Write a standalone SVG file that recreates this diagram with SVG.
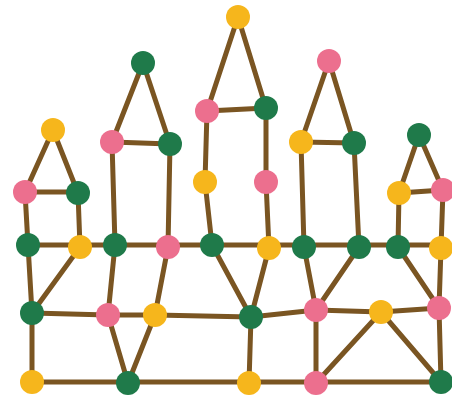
<svg xmlns="http://www.w3.org/2000/svg" width="452" height="401" viewBox="0 0 452 401">
<style>
.e{stroke:#7a5522;stroke-width:5;stroke-linecap:round;fill:none}
.g{fill:#1f7a4a}.p{fill:#ec6f8e}.y{fill:#f6b61c}
</style>
<rect width="452" height="401" fill="#ffffff"/>
<g id="connectors" class="e">
<path d="M53 130L25 192M53 130L78 193M25 192H78M25 192L28 245M78 193L80 247"/>
<path d="M28 245H441"/>
<path d="M28 245L32 313M80 247L32 313M32 313L32 382"/>
<path d="M32 313L108 315L155 315L251 317L316 310L381 312L439 308"/>
<path d="M32 382H441"/>
<path d="M143 63L112 142M143 63L170 144M112 142L170 144M112 142L115 245M170 144L168 247"/>
<path d="M115 245L108 315M168 247L155 315M108 315L128 383M155 315L128 383"/>
<path d="M238 17L207 111M238 17L266 108M207 111L266 108M207 111L205 182M205 182L212 245M266 108L266 182M266 182L269 248"/>
<path d="M212 245L251 317M269 248L251 317M251 317L249 383"/>
<path d="M304 247L316 310M359 247L316 310M316 310L316 383M381 312L316 383M381 312L441 382"/>
<path d="M398 247L439 308M441 248L439 308M439 308L441 382"/>
<path d="M329 61L301 142M329 61L354 143M301 142L354 143M301 142L304 247M354 143L359 247"/>
<path d="M419 135L399 193M419 135L443 190M399 193L443 190M399 193L398 247M443 190L441 248"/>
</g>
<g id="n1"><circle class="y" cx="238" cy="17" r="12"/></g>
<g id="n2"><circle class="g" cx="143" cy="63" r="12"/></g>
<g id="n3"><circle class="p" cx="329" cy="61" r="12"/></g>
<g id="n4"><circle class="y" cx="53" cy="130" r="12"/></g>
<g id="n5"><circle class="p" cx="207" cy="111" r="12"/></g>
<g id="n6"><circle class="g" cx="266" cy="108" r="12"/></g>
<g id="n7"><circle class="p" cx="112" cy="142" r="12"/></g>
<g id="n8"><circle class="g" cx="170" cy="144" r="12"/></g>
<g id="n9"><circle class="y" cx="301" cy="142" r="12"/></g>
<g id="n10"><circle class="g" cx="354" cy="143" r="12"/></g>
<g id="n11"><circle class="g" cx="419" cy="135" r="12"/></g>
<g id="n12"><circle class="y" cx="205" cy="182" r="12"/></g>
<g id="n13"><circle class="p" cx="266" cy="182" r="12"/></g>
<g id="n14"><circle class="p" cx="25" cy="192" r="12"/></g>
<g id="n15"><circle class="g" cx="78" cy="193" r="12"/></g>
<g id="n16"><circle class="y" cx="399" cy="193" r="12"/></g>
<g id="n17"><circle class="p" cx="443" cy="190" r="12"/></g>
<g id="n18"><circle class="g" cx="28" cy="245" r="12"/></g>
<g id="n19"><circle class="y" cx="80" cy="247" r="12"/></g>
<g id="n20"><circle class="g" cx="115" cy="245" r="12"/></g>
<g id="n21"><circle class="p" cx="168" cy="247" r="12"/></g>
<g id="n22"><circle class="g" cx="212" cy="245" r="12"/></g>
<g id="n23"><circle class="y" cx="269" cy="248" r="12"/></g>
<g id="n24"><circle class="g" cx="304" cy="247" r="12"/></g>
<g id="n25"><circle class="g" cx="359" cy="247" r="12"/></g>
<g id="n26"><circle class="g" cx="398" cy="247" r="12"/></g>
<g id="n27"><circle class="y" cx="441" cy="248" r="12"/></g>
<g id="n28"><circle class="g" cx="32" cy="313" r="12"/></g>
<g id="n29"><circle class="p" cx="108" cy="315" r="12"/></g>
<g id="n30"><circle class="y" cx="155" cy="315" r="12"/></g>
<g id="n31"><circle class="g" cx="251" cy="317" r="12"/></g>
<g id="n32"><circle class="p" cx="316" cy="310" r="12"/></g>
<g id="n33"><circle class="y" cx="381" cy="312" r="12"/></g>
<g id="n34"><circle class="p" cx="439" cy="308" r="12"/></g>
<g id="n35"><circle class="y" cx="32" cy="382" r="12"/></g>
<g id="n36"><circle class="g" cx="128" cy="383" r="12"/></g>
<g id="n37"><circle class="y" cx="249" cy="383" r="12"/></g>
<g id="n38"><circle class="p" cx="316" cy="383" r="12"/></g>
<g id="n39"><circle class="g" cx="441" cy="382" r="12"/></g>
</svg>
